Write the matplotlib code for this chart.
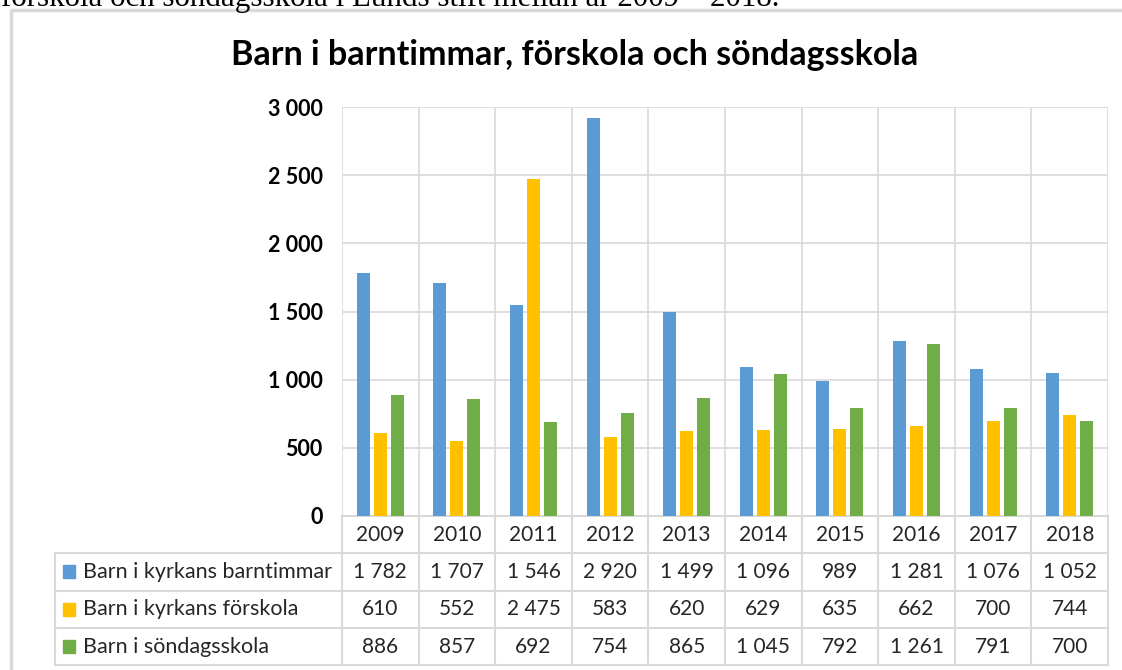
import matplotlib.pyplot as plt
from matplotlib.transforms import blended_transform_factory
from matplotlib.patches import Rectangle

years = ['2009', '2010', '2011', '2012', '2013', '2014', '2015', '2016', '2017', '2018']
barntimmar = [1782, 1707, 1546, 2920, 1499, 1096, 989, 1281, 1076, 1052]
forskola = [610, 552, 2475, 583, 620, 629, 635, 662, 700, 744]
sondagsskola = [886, 857, 692, 754, 865, 1045, 792, 1261, 791, 700]
labels = ['Barn i kyrkans barntimmar', 'Barn i kyrkans förskola', 'Barn i söndagsskola']
colors = ['#5B9BD5', '#FFC000', '#70AD47']

W, H = 1122, 670
grid_c = '#D9D9D9'
font = 'Lato'


def fmt(v):
    return '{:,}'.format(int(v)).replace(',', ' ')


fig = plt.figure(figsize=(W / 100, H / 100), dpi=100)

# caption line cut off at the top of the page
fig.text(1 / W, 1 - 6 / H, 'förskola och söndagsskola i Lunds stift mellan år 2009 – 2018.',
         family='Liberation Serif', fontsize=22.3, va='baseline', ha='left')

# chart frame
fig.add_artist(plt.Line2D([11 / W, 11 / W, 1], [0, 1 - 10 / H, 1 - 10 / H],
                          transform=fig.transFigure, color=grid_c, lw=2.5))

fig.text(575 / W, 1 - 55 / H, 'Barn i barntimmar, förskola och söndagsskola',
         family=font, fontsize=24.5, fontweight='bold', ha='center', va='center')

left, right, top, bottom = 342, 1108, 107, 516
ax = fig.add_axes([left / W, 1 - bottom / H, (right - left) / W, (bottom - top) / H])

series = [barntimmar, forskola, sondagsskola]
x = list(range(len(years)))
off = 0.222
bw = 0.17
for i, (vals, c) in enumerate(zip(series, colors)):
    ax.bar([xi + (i - 1) * off for xi in x], vals, width=bw, color=c, zorder=3)

ax.set_xlim(-0.5, len(years) - 0.5)
ax.set_ylim(0, 3000)
ax.set_yticks(range(0, 3001, 500))
ax.set_yticklabels([fmt(v) for v in range(0, 3001, 500)], family=font,
                   fontsize=15.5, fontweight='bold')
ax.tick_params(axis='y', length=0, pad=14)
ax.set_xticks([])
for s in ax.spines.values():
    s.set_visible(False)
ax.grid(axis='y', color=grid_c, lw=1.2, zorder=0)
for b in [xi - 0.5 for xi in x] + [len(years) - 0.5]:
    ax.axvline(b, color=grid_c, lw=1.2, zorder=0)

# data table below the plot
axh = bottom - top
row_h = 37.3 / axh
tr = blended_transform_factory(ax.transData, ax.transAxes)
label_left = -0.5 - (left - 55) / ((right - left) / len(years))
n_rows = 4
y_bot = -n_rows * row_h
for b in [xi - 0.5 for xi in x] + [len(years) - 0.5]:
    ax.plot([b, b], [0, y_bot], transform=tr, color=grid_c, lw=1.5, clip_on=False)
ax.plot([-0.5, len(years) - 0.5], [0, 0], transform=tr, color=grid_c, lw=1.5, clip_on=False)
for r in range(1, n_rows + 1):
    ax.plot([label_left, len(years) - 0.5], [-r * row_h, -r * row_h], transform=tr,
            color=grid_c, lw=1.5, clip_on=False)
ax.plot([label_left, label_left], [-row_h, y_bot], transform=tr, color=grid_c, lw=1.5,
        clip_on=False)

for xi, yr in zip(x, years):
    ax.text(xi, -0.5 * row_h, yr, transform=tr, ha='center', va='center',
            family=font, fontsize=15, color='#262626')

unit = (right - left) / len(years)
for r, (vals, lab, c) in enumerate(zip(series, labels, colors)):
    yc = -(r + 1.5) * row_h
    for xi, v in zip(x, vals):
        ax.text(xi, yc, fmt(v), transform=tr, ha='center', va='center',
                family=font, fontsize=15, color='#262626')
    kx = label_left + 8 / unit
    ax.add_patch(Rectangle((kx, yc - 6.5 / axh), 12.5 / unit, 13 / axh, transform=tr,
                           color=c, clip_on=False))
    ax.text(label_left + 28 / unit, yc, lab, transform=tr, ha='left', va='center',
            family=font, fontsize=15.5, color='#262626')

fig.savefig('out.png', dpi=100)
